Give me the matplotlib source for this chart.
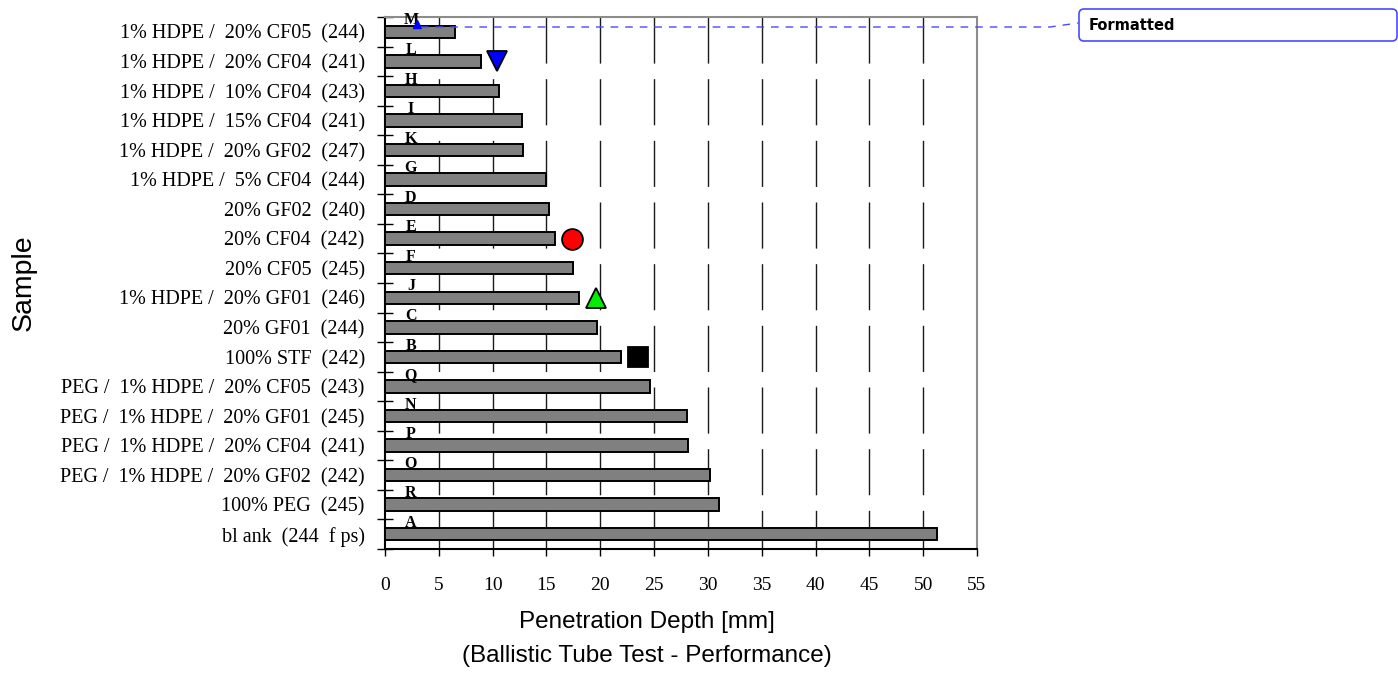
import matplotlib.pyplot as plt
import matplotlib.patches as mpatches
import matplotlib.lines as mlines
from matplotlib.transforms import IdentityTransform

# samples, top to bottom
samples = ['1% HDPE /  20% CF05  (244)', '1% HDPE /  20% CF04  (241)',
           '1% HDPE /  10% CF04  (243)', '1% HDPE /  15% CF04  (241)',
           '1% HDPE /  20% GF02  (247)', '1% HDPE /  5% CF04  (244)',
           '20% GF02  (240)', '20% CF04  (242)', '20% CF05  (245)',
           '1% HDPE /  20% GF01  (246)', '20% GF01  (244)', '100% STF  (242)',
           'PEG /  1% HDPE /  20% CF05  (243)', 'PEG /  1% HDPE /  20% GF01  (245)',
           'PEG /  1% HDPE /  20% CF04  (241)', 'PEG /  1% HDPE /  20% GF02  (242)',
           '100% PEG  (245)', 'bl ank  (244  f ps)']
letters = ['M', 'L', 'H', 'I', 'K', 'G', 'D', 'E', 'F', 'J', 'C', 'B', 'Q', 'N', 'P', 'O', 'R', 'A']
depth = [6.5, 8.9, 10.55, 12.75, 12.85, 15.0, 15.2, 15.8, 17.45, 18.05,
         19.7, 21.9, 24.65, 28.1, 28.15, 30.2, 31.0, 51.25]

# highlighted samples
mark_rows = ['L', 'E', 'J', 'B']
mark_x = [10.4, 17.4, 19.6, 23.55]
mark_style = ['v', 'o', '^', 's']
mark_color = ['#0000ff', '#ff0000', '#00ee00', '#000000']

xticks = list(range(0, 60, 5))

fig = plt.figure(figsize=(13.98, 6.73), dpi=100)
ax = fig.add_axes([385/1398, 1-549/673, 592/1398, 532/673])

ypos = list(range(len(samples)))
ax.barh(ypos, depth, height=0.42, color='#808080', edgecolor='black', linewidth=1.4, zorder=3)

# dashed vertical grid, drawn from the top down
for xv in xticks[1:-1]:
    ax.plot([xv, xv], [-0.5, len(samples) - 0.5], color='#1a1a1a', lw=1,
            dashes=(33.2, 11.2), zorder=1)

for i, lt in enumerate(letters):
    ax.text(2.4, i - 0.25, lt, ha='center', va='baseline', fontsize=11.5,
            fontweight='bold', family='Liberation Serif', zorder=4)

for r, xv, m, c in zip(mark_rows, mark_x, mark_style, mark_color):
    ax.plot(xv, letters.index(r), marker=m, markersize=15, color=c,
            markeredgecolor='black', markeredgewidth=1.3, zorder=5)

ax.set_xlim(0, 55)
ax.set_ylim(len(samples) - 0.5, -0.5)
ax.set_xticks(xticks)
ax.set_xticklabels([str(v) for v in xticks], family='Liberation Serif', fontsize=14)
ax.tick_params(axis='x', direction='out', length=5, width=1, pad=15)

ax.set_yticks([y - 0.5 for y in range(len(samples) + 1)])
ax.set_yticklabels([])
ax.tick_params(axis='y', which='major', direction='inout', length=11, width=1)
ax.set_yticks(ypos, minor=True)
ax.set_yticklabels(samples, minor=True, family='Liberation Serif', fontsize=14.5)
ax.tick_params(axis='y', which='minor', length=0, pad=14.5)

for s in ['left', 'bottom']:
    ax.spines[s].set_color('black')
    ax.spines[s].set_linewidth(1.5)
for s in ['top', 'right']:
    ax.spines[s].set_color('#8c8c8c')
    ax.spines[s].set_linewidth(1.5)

fig.text(24/1398, 1-283/673, 'Sample', rotation=90, ha='center', va='center',
         family='Liberation Sans', fontsize=20.5)
fig.text(647/1398, 1-622/673, 'Penetration Depth [mm]', ha='center', va='center',
         family='Liberation Sans', fontsize=17.5)
fig.text(647/1398, 1-656/673, '(Ballistic Tube Test - Performance)', ha='center', va='center',
         family='Liberation Sans', fontsize=17.5)

# comment balloon
ax.plot(2.95, -0.25, marker='^', markersize=6, color='#0000ff', clip_on=False, zorder=6)
blue = '#4a4aff'
fig.add_artist(mlines.Line2D([421, 1050, 1078], [673-27, 673-27, 673-23], color=blue,
                             lw=1, dashes=(5.5, 5), transform=IdentityTransform()))
fig.add_artist(mpatches.FancyBboxPatch((1079, 673-41), 318, 32,
                                       boxstyle='round,pad=0,rounding_size=5',
                                       facecolor='white', edgecolor=blue, lw=1.2,
                                       transform=IdentityTransform()))
fig.text(1089/1398, 1-25/673, 'Formatted', ha='left', va='center', fontsize=10.5,
         fontweight='bold', family='DejaVu Sans')

fig.savefig('out.png', dpi=100)
